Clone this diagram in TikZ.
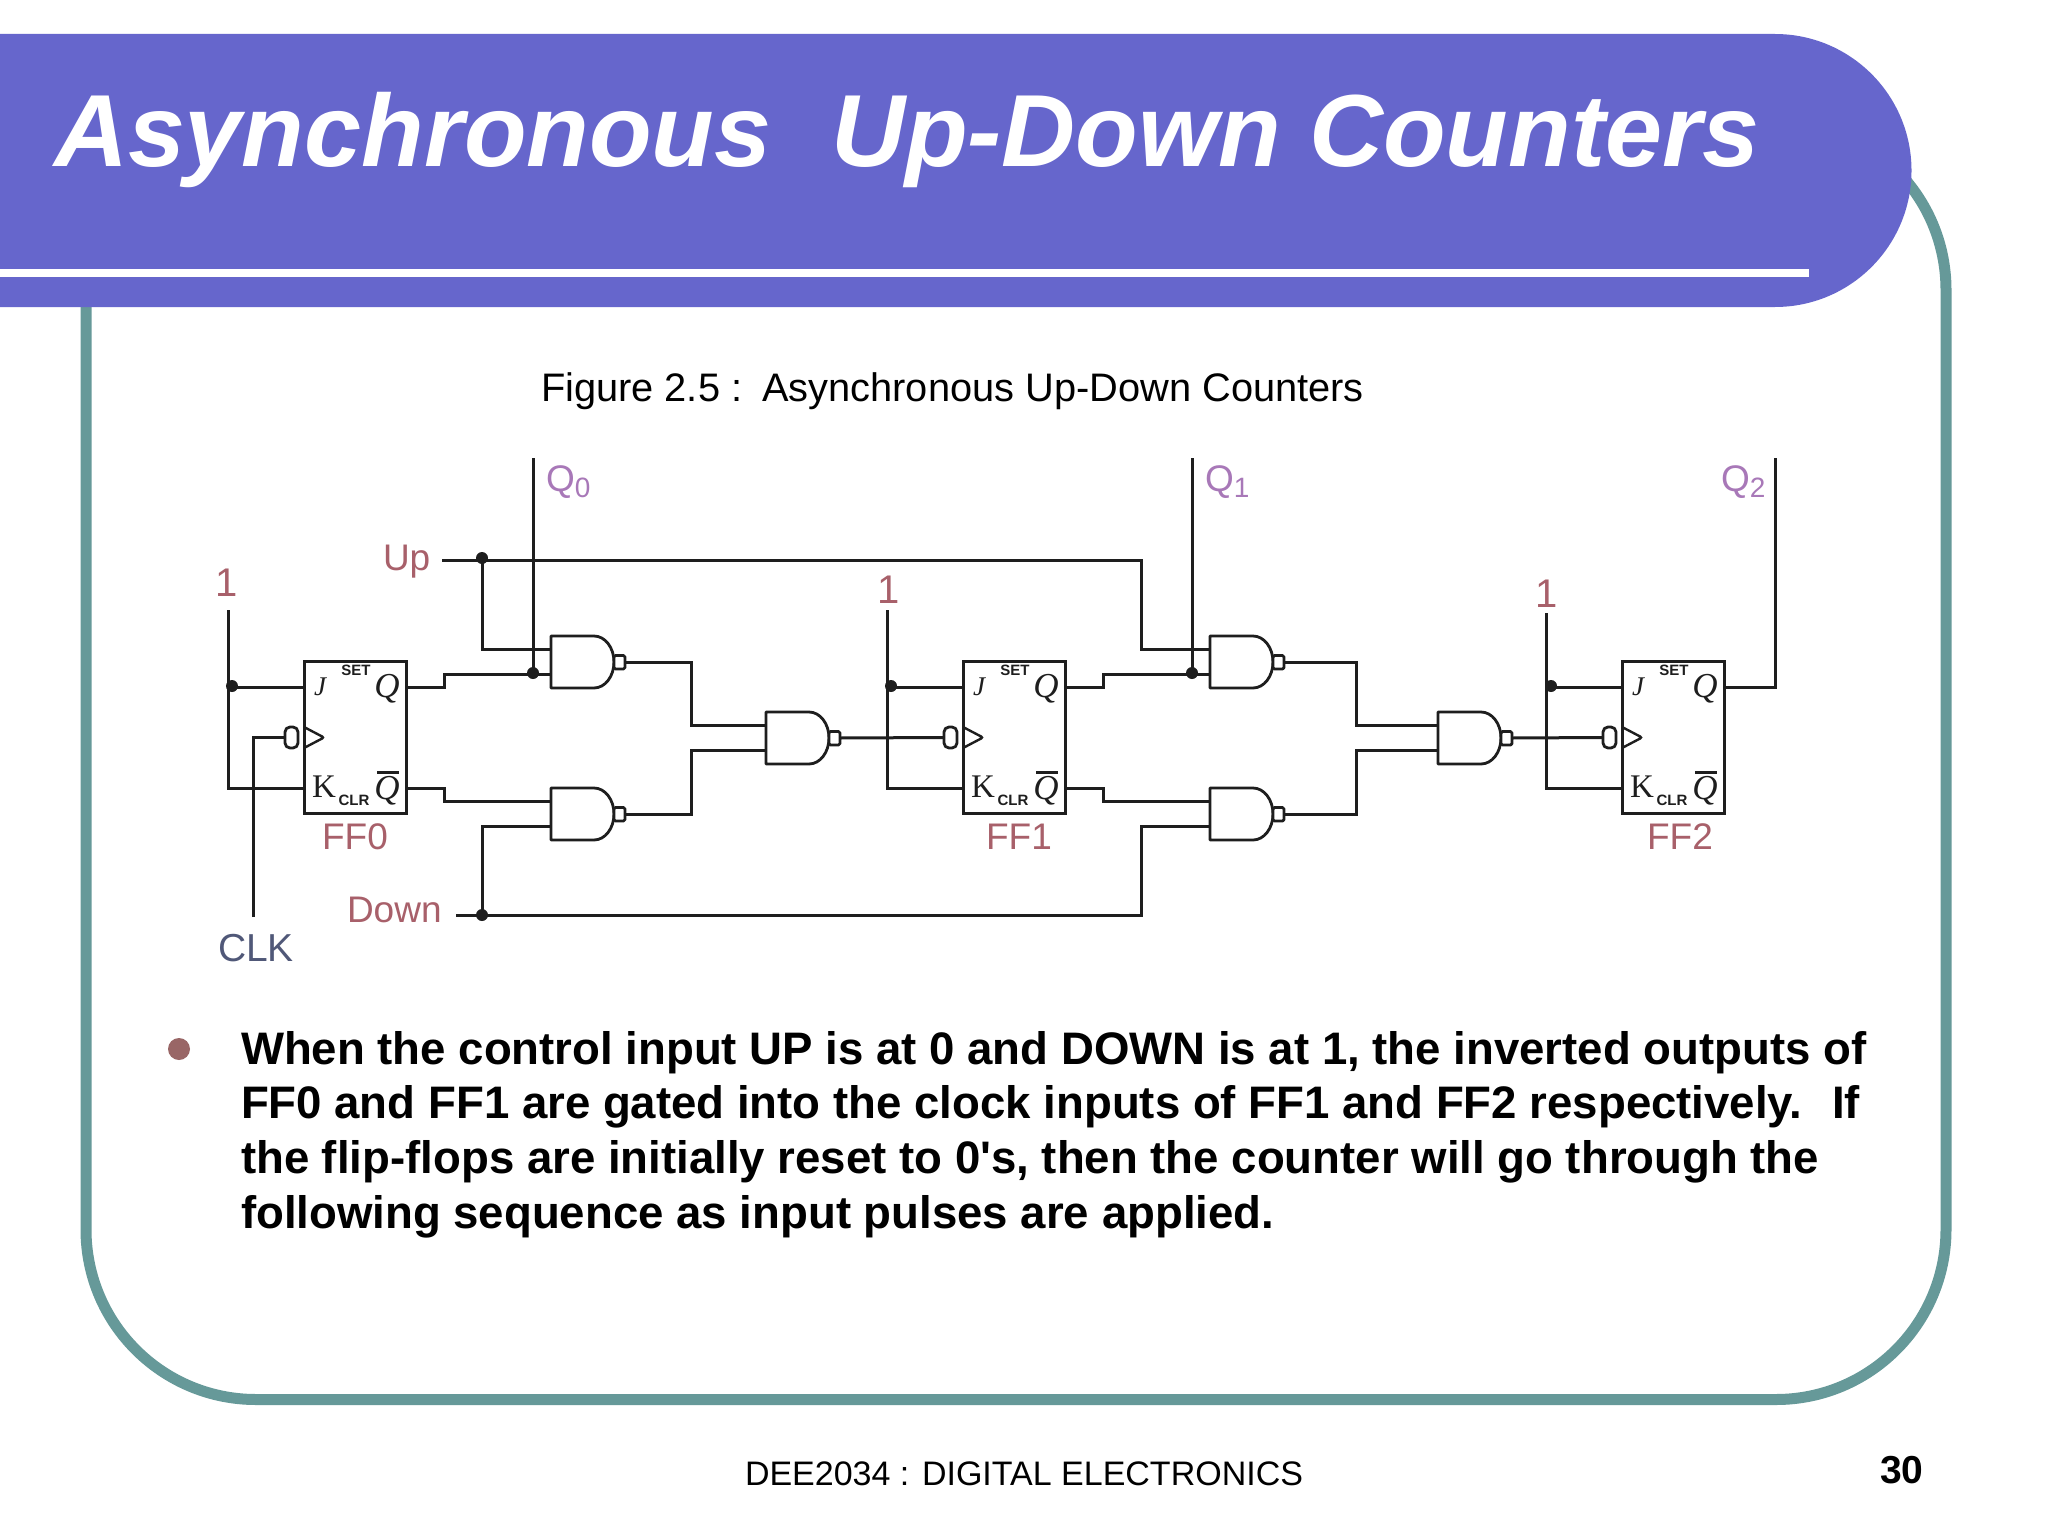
\documentclass[tikz,border=0pt]{standalone}
\usepackage{fontspec}
\setmainfont{Liberation Sans}
\newfontfamily\plainface{Liberation Sans}
\newfontfamily\serifface{Liberation Serif}
\usetikzlibrary{calc}
\definecolor{banner}{HTML}{6666CC}
\definecolor{framec}{HTML}{669999}
\definecolor{bulletc}{HTML}{996666}
\definecolor{wirec}{HTML}{1E1E1E}
\definecolor{redlab}{HTML}{A8606A}
\definecolor{purplab}{HTML}{A878B8}
\definecolor{bluelab}{HTML}{505878}
\newcommand{\fsz}[1]{\fontsize{#1}{#1}\selectfont}
\newcommand{\qsub}[1]{Q\raisebox{-6pt}{\fsz{28}#1}}
\tikzset{
  x=1pt,y=-1pt,
  wire/.style={draw=wirec,line width=3pt,line join=miter},
  gateshape/.style={draw=wirec,line width=2.8pt,fill=white,line join=round},
  ffbox/.style={draw=wirec,line width=3pt,fill=white,minimum width=102pt,minimum height=152pt,inner sep=0pt,outer sep=0pt},
  junction/.style={circle,fill=wirec,draw=none,minimum size=12pt,inner sep=0pt},
  textlab/.style={anchor=base west,inner sep=0pt,outer sep=0pt},
  centerlab/.style={anchor=base,inner sep=0pt,outer sep=0pt},
  redtxt/.style={centerlab,text=redlab,font=\fsz{37}},
  purtxt/.style={textlab,text=purplab,font=\fsz{37}},
  pintxt/.style={centerlab,text=wirec,font=\serifface\fsz{33}},
  tinytxt/.style={centerlab,text=wirec,font=\bfseries\fsz{15}},
  bodytxt/.style={textlab,text=black,font=\plainface\bfseries\fsz{45.57}},
  capttxt/.style={textlab,text=black,font=\fsz{39.8}}
}
% \nandgate{name}{x}{y}: NAND symbol with coordinates name-a, name-b, name-o
\newcommand{\nandgate}[3]{%
  \draw[gateshape] (#2,#3) -- ++(43,0) arc[start angle=90,end angle=-90,x radius=20pt,y radius=26pt] -- ++(-43,0) -- cycle;
  \draw[gateshape,rounded corners=1.5pt] (#2+63,#3+19.5) rectangle (#2+74,#3+33);
  \coordinate (#1-a) at (#2,#3+13);
  \coordinate (#1-b) at (#2,#3+38);
  \coordinate (#1-o) at (#2+74,#3+26);
}
% \flipflop{n}{x}: box, pins and clock symbol
\newcommand{\flipflop}[2]{%
  \node[ffbox,anchor=north west] (ff#1) at (#2,661) {};
  \coordinate (ff#1-j) at (#2,687);
  \coordinate (ff#1-k) at (#2,788);
  \coordinate (ff#1-q) at (#2+102,687);
  \coordinate (ff#1-nq) at (#2+102,788);
  \coordinate (ff#1-c) at (#2-19,737.5);
  \draw[wire,line width=2.4pt,rounded corners=2pt] (#2,727) -- (#2+20,737.5) -- (#2,748);
  \draw[gateshape,rounded corners=5pt] (#2-19,727) rectangle (#2-6,748);
  \node[pintxt,font=\serifface\itshape\fsz{27}] (ffj#1) at (#2+16,695) {J};
  \node[pintxt] (ffkl#1) at (#2+20,797) {K};
  \node[tinytxt] (ffs#1) at (#2+52,675) {SET};
  \node[tinytxt] (ffr#1) at (#2+50,805) {CLR};
  \node[pintxt,font=\serifface\itshape\fsz{35}] (ffq#1) at (#2+83,697) {Q};
  \node[pintxt,font=\serifface\itshape\fsz{35}] (ffnq#1) at (#2+83,799) {Q};
  \draw[wirec,line width=3pt] (#2+73,772) -- (#2+95,772);
}
\begin{document}
\begin{tikzpicture}
\useasboundingbox (0,0) rectangle (2048,1536);
\fill[white] (0,0) rectangle (2048,1536);
% slide frame
\draw[framec,line width=11pt,rounded corners=170pt] (86,120) rectangle (1946,1399.5);
% title banner
\fill[banner] (0,34) -- (1775,34) arc[start angle=90,end angle=-90,radius=136.5pt] -- (0,307) -- cycle;
\fill[white] (0,269) rectangle (1809,277);
\node[textlab,text=white,font=\bfseries\itshape\fsz{102.5}] (title) at (54,166) {Asynchronous\hspace{0.58em}Up-Down Counters};
\node[capttxt] (caption) at (541,401) {Figure 2.5 :\hspace{0.5em}Asynchronous Up-Down Counters};

% circuit
\flipflop{0}{304}
\flipflop{1}{963}
\flipflop{2}{1622}
\nandgate{ga}{551}{636}
\nandgate{gb}{551}{788}
\nandgate{gc}{766}{712}
\nandgate{gd}{1210}{636}
\nandgate{ge}{1210}{788}
\nandgate{gf}{1438}{712}

\coordinate (upstart) at (442,560);
\coordinate (upj) at (482,560);
\coordinate (downstart) at (456,915);
\coordinate (downj) at (482,915);
\coordinate (qzj) at (533,674);
\coordinate (qzt) at (533,458);
\coordinate (qoj) at (1192,674);
\coordinate (qot) at (1192,458);
\coordinate (qtt) at (1775,458);
\coordinate (clkb) at (253,917);
\coordinate (onea) at (228,610);
\coordinate (oneb) at (887,610);
\coordinate (onec) at (1546,613);

% flip-flop J/K ties
\draw[wire] (onea) |- (ff0-j);
\draw[wire] (onea) |- (ff0-k);
\draw[wire] (oneb) |- (ff1-j);
\draw[wire] (oneb) |- (ff1-k);
\draw[wire] (onec) |- (ff2-j);
\draw[wire] (onec) |- (ff2-k);
% clock
\draw[wire] (clkb) |- (ff0-c);
\draw[wire] (gc-o) -- (ff1-c);
\draw[wire] (gf-o) -- (ff2-c);
% control lines
\draw[wire] (upstart) -- (1141,560) |- (gd-a);
\draw[wire] (upj) |- (ga-a);
\draw[wire] (downstart) -- (1141,915) |- (ge-b);
\draw[wire] (downj) |- (gb-b);
% outputs
\draw[wire] (ff0-q) -- ++(38,0) |- (ga-b);
\draw[wire] (ff0-nq) -- ++(38,0) |- (gb-a);
\draw[wire] (ff1-q) -- ++(38,0) |- (gd-b);
\draw[wire] (ff1-nq) -- ++(38,0) |- (ge-a);
\draw[wire] (qzt) -- (qzj);
\draw[wire] (qot) -- (qoj);
\draw[wire] (ff2-q) -| (qtt);
% gate network
\draw[wire] (ga-o) -| (691,725) -- (gc-a);
\draw[wire] (gb-o) -| (691,750) -- (gc-b);
\draw[wire] (gd-o) -| (1356,725) -- (gf-a);
\draw[wire] (ge-o) -| (1356,750) -- (gf-b);
% junctions
\node[junction] (jup) at (482,558) {};
\node[junction] (jdown) at (482,915) {};
\node[junction] (jq0) at (533,673) {};
\node[junction] (jq1) at (1192,673) {};
\node[junction] (j1a) at (232,686) {};
\node[junction] (j1b) at (891,686) {};
\node[junction] (j1c) at (1551,686) {};

% signal labels
\node[redtxt,font=\fsz{40}] (lone1) at (227,596) {1};
\node[redtxt,font=\fsz{40}] (lone2) at (889,603) {1};
\node[redtxt,font=\fsz{40}] (lone3) at (1547,607) {1};
\node[redtxt,anchor=base west] (lup) at (383,570) {Up};
\node[redtxt,anchor=base west] (ldown) at (347,922) {Down};
\node[redtxt,anchor=base west,text=bluelab,font=\fsz{39}] (lclk) at (218,961) {CLK};
\node[redtxt] (lf0) at (355,849) {FF0};
\node[redtxt] (lf1) at (1019,849) {FF1};
\node[redtxt] (lf2) at (1680,849) {FF2};
\node[purtxt] (lq0) at (546,491) {\qsub{0}};
\node[purtxt] (lq1) at (1205,491) {\qsub{1}};
\node[purtxt] (lq2) at (1721,491) {\qsub{2}};

% body text
\fill[bulletc] (179,1049) circle[radius=11pt];
\node[bodytxt] (l1) at (241,1064) {When the control input UP is at 0 and DOWN is at 1, the inverted outputs of};
\node[bodytxt] (l2) at (241,1118) {FF0 and FF1 are gated into the clock inputs of FF1 and FF2 respectively.\hspace{0.65em}If};
\node[bodytxt] (l3) at (241,1173) {the flip-flops are initially reset to 0's, then the counter will go through the};
\node[bodytxt] (l4) at (241,1228) {following sequence as input pulses are applied.};
% footer
\node[textlab,text=black,font=\fsz{34}] (foot) at (745,1485) {DEE2034 : DIGITAL ELECTRONICS};
\node[textlab,text=black,font=\bfseries\fsz{39}] (page) at (1880,1483) {30};
\end{tikzpicture}
\end{document}
